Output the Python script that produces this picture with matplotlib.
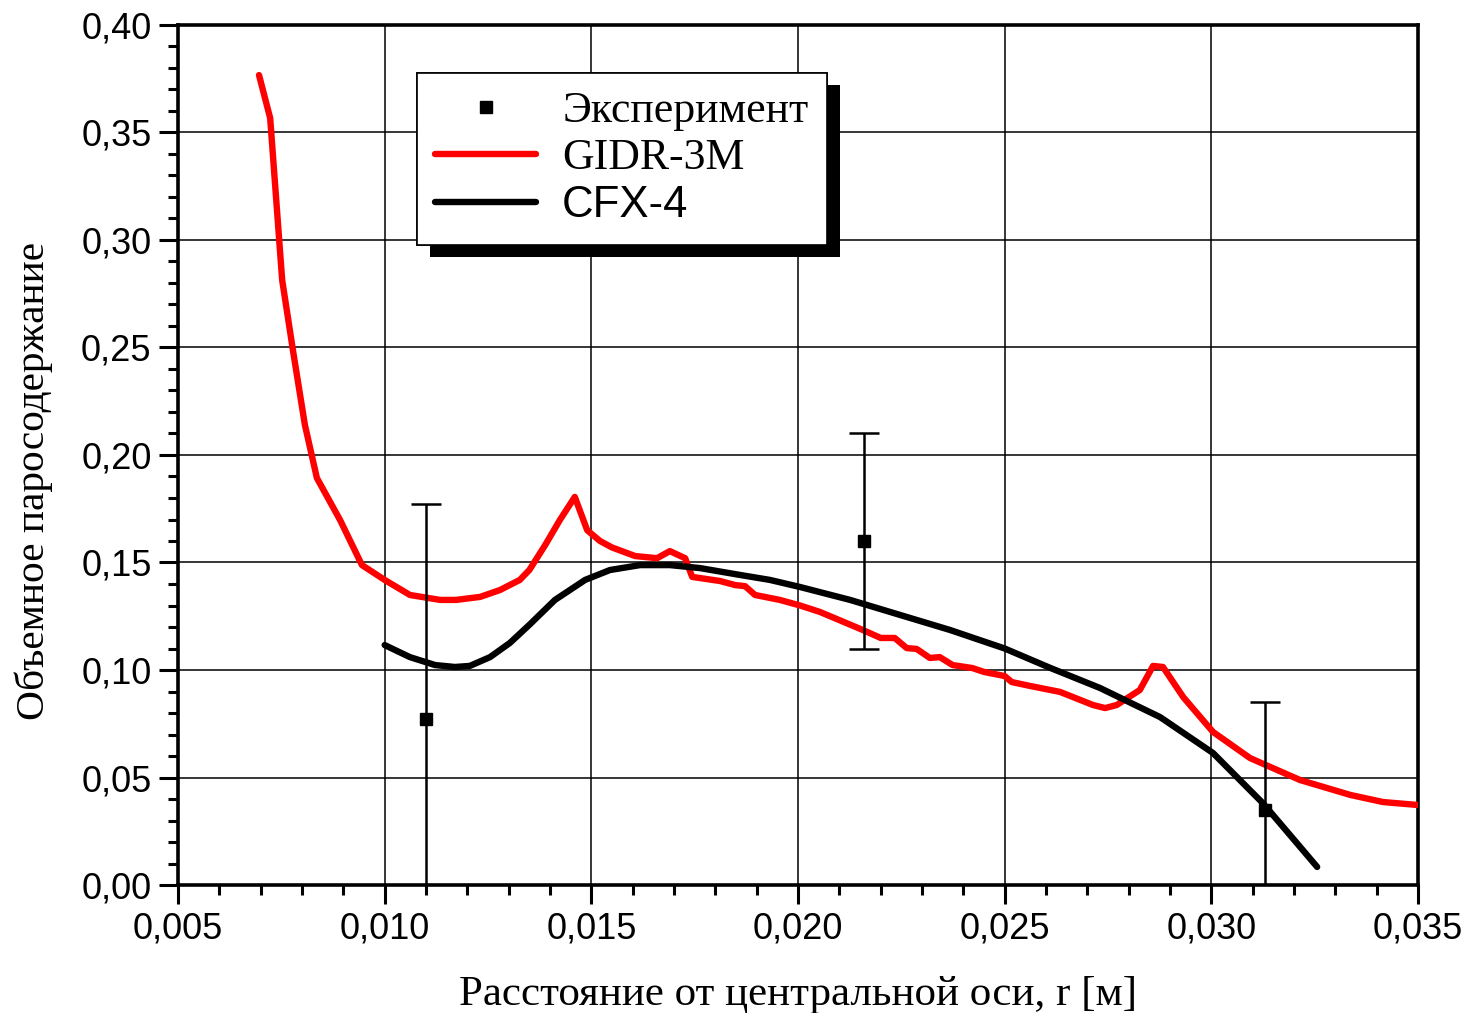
import matplotlib
matplotlib.use('Agg')
import matplotlib.pyplot as plt
from matplotlib.lines import Line2D
from matplotlib.patches import Rectangle
from matplotlib.ticker import MultipleLocator, FuncFormatter

# experiment
exp_r = [0.0110, 0.0216, 0.0313]
exp_phi = [0.077, 0.160, 0.035]
exp_err = [0.100, 0.050, 0.050]

# GIDR-3M
gidr_r = [0.00696, 0.00723, 0.00752, 0.00778, 0.00807, 0.00836, 0.00892, 0.00945,
          0.0100, 0.01061, 0.01134, 0.01173, 0.01231, 0.01279, 0.01327, 0.0135,
          0.01388, 0.01424, 0.0146, 0.0149, 0.01521, 0.0155, 0.01606, 0.01659,
          0.0169, 0.01727, 0.01744, 0.01811, 0.01848, 0.01872, 0.01896, 0.01956,
          0.02005, 0.02053, 0.02157, 0.0220, 0.02234, 0.02263, 0.02287, 0.02319,
          0.02343, 0.02374, 0.02422, 0.0245, 0.0250, 0.02517, 0.02561, 0.02634,
          0.02714, 0.02743, 0.02771, 0.02827, 0.02859, 0.02883, 0.02932, 0.03004,
          0.03094, 0.03215, 0.03336, 0.03415, 0.0350]
gidr_phi = [0.3767, 0.3567, 0.2814, 0.2488, 0.2140, 0.1893, 0.1698, 0.1488,
            0.1419, 0.1349, 0.1326, 0.1326, 0.1340, 0.1372, 0.1419, 0.1465,
            0.1580, 0.1698, 0.1805, 0.1650, 0.1600, 0.1570, 0.1530, 0.1520,
            0.1553, 0.1520, 0.1433, 0.1414, 0.1395, 0.1390, 0.1349, 0.1326,
            0.1300, 0.1270, 0.1186, 0.1149, 0.1149, 0.1102, 0.1098, 0.1056,
            0.1060, 0.1023, 0.1009, 0.0991, 0.0972, 0.0944, 0.0926, 0.0898,
            0.0837, 0.0823, 0.0837, 0.0907, 0.1019, 0.1014, 0.0874, 0.0712,
            0.0590, 0.0488, 0.0419, 0.0386, 0.0372]

# CFX-4
cfx_r = [0.0100, 0.01061, 0.01122, 0.0117, 0.01206, 0.01255, 0.01303, 0.0135,
         0.01412, 0.01485, 0.01545, 0.01618, 0.0169, 0.01763, 0.0186, 0.01932,
         0.02005, 0.02126, 0.02247, 0.02368, 0.0250, 0.0261, 0.02731, 0.02876,
         0.03004, 0.03125, 0.03256]
cfx_phi = [0.1116, 0.1060, 0.1023, 0.1014, 0.1019, 0.1060, 0.1126, 0.1210,
           0.1326, 0.1419, 0.1465, 0.1488, 0.1488, 0.1474, 0.1442, 0.1419,
           0.1386, 0.1326, 0.1256, 0.1186, 0.1100, 0.1010, 0.0916, 0.0781,
           0.0614, 0.0380, 0.0084]

serif = 'Liberation Serif'
sans = 'Liberation Sans'

fig = plt.figure(figsize=(14.68, 10.13), dpi=100)
ax = fig.add_axes([178 / 1468, 1 - 885 / 1013, 1240 / 1468, 860 / 1013])

ax.grid(True, which='major', color='black', linewidth=1.1, zorder=0)
ax.set_axisbelow(True)

ax.plot(gidr_r, gidr_phi, color='red', lw=4.6, solid_capstyle='round', zorder=3)
ax.plot(cfx_r, cfx_phi, color='black', lw=4.6, solid_capstyle='round', zorder=4)
ax.errorbar(exp_r, exp_phi, yerr=exp_err, fmt='s', color='black', ms=9,
            elinewidth=1.8, capsize=11, capthick=1.8, zorder=5)

ax.set_xlim(0.005, 0.035)
ax.set_ylim(0.0, 0.40)
ax.xaxis.set_major_locator(MultipleLocator(0.005))
ax.xaxis.set_minor_locator(MultipleLocator(0.001))
ax.yaxis.set_major_locator(MultipleLocator(0.05))
ax.yaxis.set_minor_locator(MultipleLocator(0.01))
ax.xaxis.set_major_formatter(FuncFormatter(lambda v, p: f'{v:.3f}'.replace('.', ',')))
ax.yaxis.set_major_formatter(FuncFormatter(lambda v, p: f'{v:.2f}'.replace('.', ',')))

ax.tick_params(which='major', direction='out', length=14, width=2.2, labelsize=26, pad=5)
ax.tick_params(which='minor', direction='out', length=7, width=2.2)
ax.tick_params(top=False, right=False, which='both')
for lab in ax.get_xticklabels() + ax.get_yticklabels():
    lab.set_family(sans)
for s in ax.spines.values():
    s.set_linewidth(2.6)

ax.set_xlabel('Расстояние от центральной оси, r [м]', family=serif, fontsize=31, labelpad=21)
ax.set_ylabel('Объемное паросодержание', family=serif, fontsize=29.8)
ax.yaxis.set_label_coords(-0.1005, 0.47)

handles = [Line2D([], [], ls='none', marker='s', color='black', ms=9),
           Line2D([], [], color='red', lw=4.6, solid_capstyle='round'),
           Line2D([], [], color='black', lw=4.6, solid_capstyle='round')]
leg = ax.legend(handles, ['Эксперимент', 'GIDR-3M', 'CFX-4'],
                loc='upper left', bbox_to_anchor=(417 / 1468, 1 - 73 / 1013),
                bbox_transform=fig.transFigure, frameon=True, fancybox=False,
                edgecolor='black', framealpha=1, borderaxespad=0,
                prop={'family': serif, 'size': 31.5}, handlelength=2.3,
                handletextpad=0.6, labelspacing=0.16, borderpad=0.42)
leg.get_frame().set_linewidth(1.2)
leg.get_texts()[2].set_family(sans)
leg.set_zorder(10)

fig.canvas.draw()
bb = leg.get_window_extent().transformed(fig.transFigure.inverted())
shadow = Rectangle((bb.x0 + 13 / 1468, bb.y0 - 12 / 1013), bb.width, bb.height,
                   transform=fig.transFigure, facecolor='black', edgecolor='none', zorder=9)
fig.patches.append(shadow)
fig.add_artist(leg)

fig.savefig('out.png', dpi=100)
